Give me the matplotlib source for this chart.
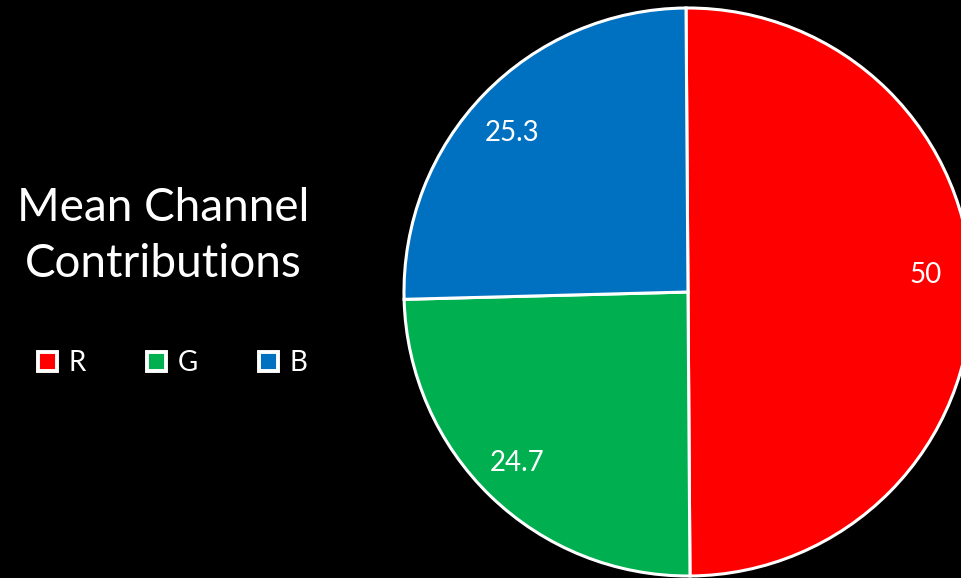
import numpy as np
import matplotlib.pyplot as plt

# channel shares
channels = ['R', 'G', 'B']
means = [50, 24.7, 25.3]
colors = ['#FF0000', '#00B050', '#0070C0']

plt.rcParams['font.family'] = ['Lato', 'DejaVu Sans']

fig = plt.figure(figsize=(9.62, 5.78), dpi=100, facecolor='black')
ax = fig.add_axes([0, 0, 1, 1])
ax.set_facecolor('black')

wedges, _ = ax.pie(means, colors=colors, startangle=90.4, counterclock=False,
                   wedgeprops=dict(edgecolor='white', linewidth=2.2))

# value labels inside each slice
label_ang = [4.0, -135, 138]
label_rad = [0.84, 0.85, 0.835]
for v, a, r in zip(means, label_ang, label_rad):
    t = np.deg2rad(a)
    ax.text(r * np.cos(t), r * np.sin(t), f'{v:g}', color='white',
            fontsize=20, ha='center', va='center')

# pie centre at (688, 292) px, radius 284 px
cx, cy, rad = 688, 292, 284
ax.set_xlim(-cx / rad, (962 - cx) / rad)
ax.set_ylim(-(578 - cy) / rad, cy / rad)
ax.set_aspect('auto')
ax.axis('off')

fig.text(163 / 962, 1 - 236 / 578, 'Mean Channel\nContributions', color='white',
         fontsize=33, ha='center', va='center', linespacing=1.42)

leg = fig.legend(wedges, channels, loc='center left',
                 bbox_to_anchor=(38 / 962, 1 - 363 / 578), ncol=3,
                 frameon=False, fontsize=20, labelcolor='white',
                 handlelength=0.7, handleheight=0.7, handletextpad=0.4,
                 columnspacing=2.2, borderpad=0, borderaxespad=0)
for h in leg.legend_handles:
    h.set_linewidth(2.8)

fig.savefig('out.png', dpi=100, facecolor='black')
